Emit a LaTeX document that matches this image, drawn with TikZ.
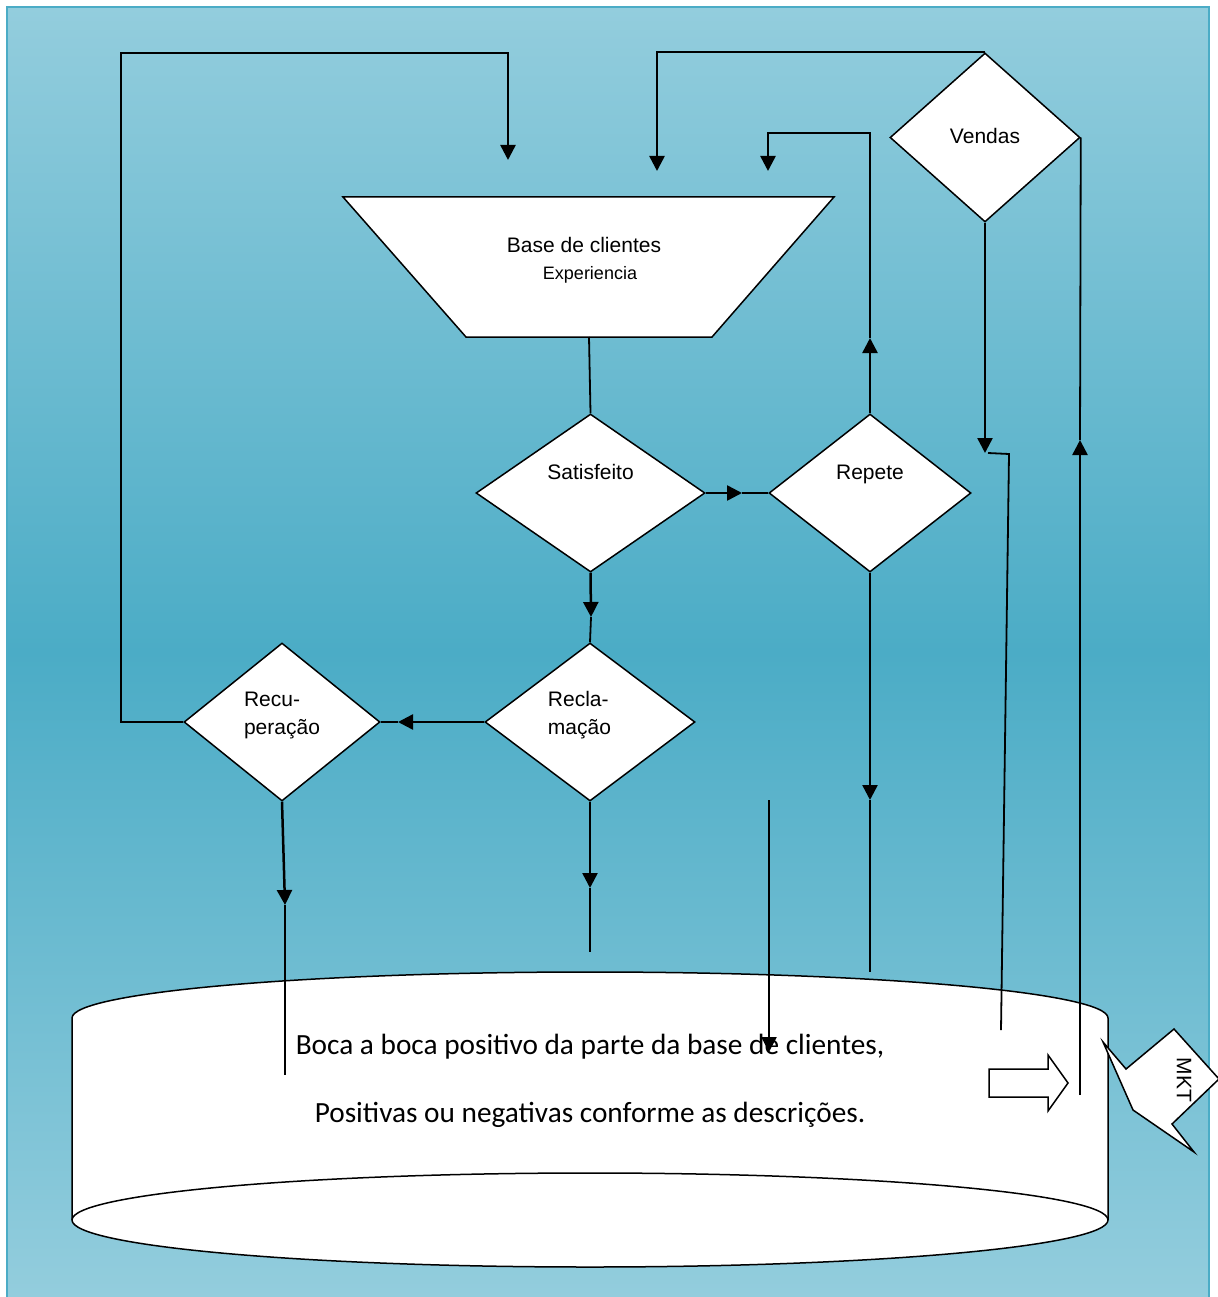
\documentclass[tikz,border=0pt]{standalone}
\usepackage{fontspec}
\setmainfont{Liberation Sans}
\newfontfamily\carlito{Carlito}
\usetikzlibrary{shapes.geometric, arrows.meta, positioning}
\definecolor{fundoclaro}{RGB}{147,205,221}
\definecolor{fundoescuro}{RGB}{75,172,198}

\begin{document}
\begin{tikzpicture}[x=1pt, y=-1pt,
  decisao/.style={diamond, draw, fill=white, line width=1.5pt, inner sep=0pt},
  rotulo/.style={font=\fontsize{21}{28}\selectfont, align=left},
  arr/.style={line width=2.5pt, -{Triangle[length=15pt,width=15pt]}},
  conn/.style={line width=1.8pt},
  texto/.style={font=\carlito\fontsize{29.3}{35}\selectfont}]

  \useasboundingbox (0,0) rectangle (1217,1297);
  \shade[top color=fundoclaro, bottom color=fundoclaro, middle color=fundoescuro] (7,7) rectangle (1209,1297);
  \draw[line width=2pt, fundoescuro] (7,1297) -- (7,7) -- (1209,7) -- (1209,1297);

  \draw[fill=white, line width=1.5pt] (72,1018) arc[start angle=180, end angle=360, x radius=518, y radius=46]
    -- (1108,1220) arc[start angle=0, end angle=180, x radius=518, y radius=47] -- cycle;
  \draw[line width=1.5pt] (72,1220) arc[start angle=180, end angle=360, x radius=518, y radius=47];
  \node[texto] (boca1) at (590,1047) {Boca a boca positivo da parte da base de clientes,};
  \node[texto] (boca2) at (590,1115) {Positivas ou negativas conforme as descrições.};

  \draw[fill=white, line width=1.5pt] (343,197) -- (834,197) -- (712,337) -- (466,337) -- cycle;
  \coordinate (basesul) at (589,337);
  \node[font=\fontsize{21}{27}\selectfont, align=center] (base) at (584,260)
    {Base de clientes\\\hspace*{12pt}{\fontsize{18}{22}\selectfont Experiencia}};

  \node[decisao, minimum width=229pt, minimum height=158pt,
    label={[rotulo, yshift=21pt]center:Satisfeito}] (satisf) at (590.5,493) {};
  \node[decisao, minimum width=202pt, minimum height=158pt,
    label={[rotulo, yshift=19pt]center:Repete}] (repete) at (870,493) {};
  \node[decisao, minimum width=210pt, minimum height=158pt,
    label={[rotulo, xshift=-10.5pt, yshift=7pt]center:{Recla-\\mação}}] (recla) at (590,722) {};
  \node[decisao, minimum width=196pt, minimum height=158pt,
    label={[rotulo, yshift=7pt]center:{Recu-\\peração}}] (recup) at (282,722) {};
  \node[decisao, minimum width=190pt, minimum height=169pt,
    label={[rotulo, yshift=2pt]center:Vendas}] (vendas) at (985,137.5) {};

  \coordinate (sr) at (742,493);
  \coordinate (sc) at (591,617);
  \coordinate (cr) at (398,722);
  \coordinate (rb1) at (121,722);
  \coordinate (rb2) at (508,53);
  \coordinate (rb3) at (508,160);
  \coordinate (vb1) at (657,53);
  \coordinate (vb2) at (657,171);
  \coordinate (rp1) at (870,338);
  \coordinate (rp2) at (768,133);
  \coordinate (rp3) at (768,171);
  \coordinate (vd1) at (985,453);
  \coordinate (vd2) at (1009,454);
  \coordinate (vd3) at (1001,1030);
  \coordinate (mk1) at (1080,440);
  \coordinate (mk2) at (1080,1095);
  \coordinate (rs1) at (870,800);
  \coordinate (rs2) at (870,972);
  \coordinate (cs1) at (590,888);
  \coordinate (cs2) at (590,952);
  \coordinate (us1) at (285,905);
  \coordinate (us2) at (285,1075);
  \coordinate (bb1) at (769,800);
  \coordinate (bb2) at (769,1052);

  \draw[conn] (basesul) -- (satisf.north);
  \draw[arr] (satisf.east) -- (sr);
  \draw[conn] (sr) -- (repete.west);
  \draw[arr] (satisf.south) -- (sc);
  \draw[conn] (sc) -- (recla.north);
  \draw[arr] (recla.west) -- (cr);
  \draw[conn] (cr) -- (recup.east);
  \draw[arr] (recup.west) -- (rb1) |- (rb2) -- (rb3);
  \draw[arr] (vendas.north) -- (vendas.north -| vb1) -- (vb2);
  \draw[arr] (repete.north) -- (rp1);
  \draw[arr] (rp1) |- (rp2) -- (rp3);
  \draw[arr] (vendas.south) -- (vd1);
  \draw[conn] (vd1) ++(3,0) -- (vd2) -- (vd3);
  \draw[conn] (vendas.east) -- (mk1);
  \draw[arr] (mk2) -- (mk1);
  \draw[arr] (repete.south) -- (rs1);
  \draw[conn] (rs1) -- (rs2);
  \draw[arr] (recla.south) -- (cs1);
  \draw[conn] (cs1) -- (cs2);
  \draw[arr] (recup.south) -- (us1);
  \draw[conn] (us1) -- (us2);
  \draw[arr] (bb1) -- (bb2);

  \draw[fill=white, line width=1.5pt] (989,1069) -- (1048,1069) -- (1048,1055) -- (1068,1083)
    -- (1048,1111) -- (1048,1097) -- (989,1097) -- cycle;
  \draw[fill=white, line width=1.5pt] (1103,1042) -- (1126,1069) -- (1174,1029) -- (1219,1079)
    -- (1172,1124) -- (1194,1152) -- (1133,1110) -- cycle;
  \node[rotate=-90, font=\fontsize{21}{25}\selectfont] (mkt) at (1184,1080) {MKT};
\end{tikzpicture}
\end{document}
